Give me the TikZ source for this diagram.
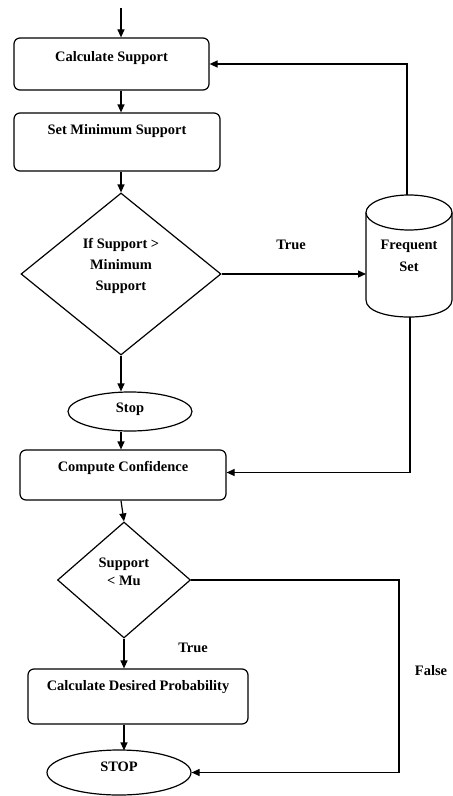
\documentclass[tikz,border=0pt]{standalone}
\usepackage{fontspec}
\setmainfont{Liberation Serif}
\usetikzlibrary{shapes.geometric,arrows.meta}
\tikzset{
  every node/.style={font=\bfseries\fontsize{14.5}{21.5}\selectfont},
  box/.style={draw, line width=1.2bp, rounded corners=6bp, inner sep=0pt},
  dia/.style={draw, diamond, line width=1.2bp, inner sep=0pt},
  oval/.style={draw, ellipse, line width=1.2bp, inner sep=0pt},
  txt/.style={align=center, inner sep=0pt},
  arr/.style={line width=1.2bp, -{Triangle[length=8bp,width=7bp]}},
  ln/.style={line width=1.2bp}
}
\begin{document}
\begin{tikzpicture}[x=1bp,y=-1bp]
\useasboundingbox (0,0) rectangle (453,796);
% boxes
\node[box, minimum width=195bp, minimum height=52bp] (cs) at (111.5,64) {};
\node[txt] (cst) at ([yshift=-21bp]cs.north) {Calculate Support};
\node[box, minimum width=206bp, minimum height=58bp] (sms) at (117,142) {};
\node[txt] (smst) at ([yshift=-19bp]sms.north) {Set Minimum Support};
\node[dia, minimum width=200bp, minimum height=162bp] (d1) at (121,274) {};
\node[txt] (d1t) at (121,266) {If Support >\\Minimum\\Support};
\node[oval, minimum width=124bp, minimum height=39bp] (stop1) at (130,411.5) {};
\node[txt] (stop1t) at (130,409) {Stop};
\node[box, minimum width=206bp, minimum height=50bp] (cc) at (123,475) {};
\node[txt] (cct) at ([yshift=-19bp]cc.north) {Compute Confidence};
\node[dia, minimum width=133bp, minimum height=116bp] (d2) at (124,580) {};
\node[txt, font=\bfseries\fontsize{14.5}{18}\selectfont] (d2t) at (124,572) {Support\\< Mu};
\node[box, minimum width=220bp, minimum height=55bp] (cdp) at (138,696.5) {};
\node[txt] (cdpt) at ([yshift=-19bp]cdp.north) {Calculate Desired Probability};
\node[oval, minimum width=144bp, minimum height=45bp] (stop2) at (119,772.5) {};
\node[txt] (stop2t) at (119,767) {STOP};
% cylinder
\draw[ln] (366,212.5) -- (366,300) .. controls (366,322.7) and (452,322.7) .. (452,300) -- (452,212.5);
\draw[ln] (409,212.5) ellipse [x radius=43bp, y radius=17.5bp];
\node[txt] (fs) at (409,256) {Frequent\\Set};
\coordinate (fstop) at (407,195);
\coordinate (fsbot) at (410,317);
\coordinate (fsleft) at (366,274);
% labels
\node[txt] (t1) at (291,245) {True};
\node[txt] (t2) at (193,648) {True};
\node[txt] (f1) at (431,671) {False};
% connectors
\coordinate (start) at (121,8);
\draw[arr] (start) -- (start |- cs.north);
\draw[arr] (cs.south -| start) -- (sms.north -| start);
\draw[arr] (sms.south -| start) -- (d1.north);
\draw[arr] (d1.south) -- (stop1.north -| d1.south);
\draw[arr] (stop1.south -| start) -- (cc.north -| start);
\draw[arr] (cc.south -| start) -- (d2.north);
\draw[arr] (d2.south) -- (cdp.north -| d2.south);
\draw[arr] (cdp.south -| d2.south) -- ([yshift=-1bp]stop2.north -| d2.south);
\draw[arr] (d1.east) -- (fsleft);
\draw[arr] (fstop) |- (cs.east);
\draw[arr] (fsbot) |- ([yshift=2.5bp]cc.east);
\coordinate (fc) at (399,580);
\draw[arr] (d2.east) -- (fc) |- (stop2.east);
\end{tikzpicture}
\end{document}
